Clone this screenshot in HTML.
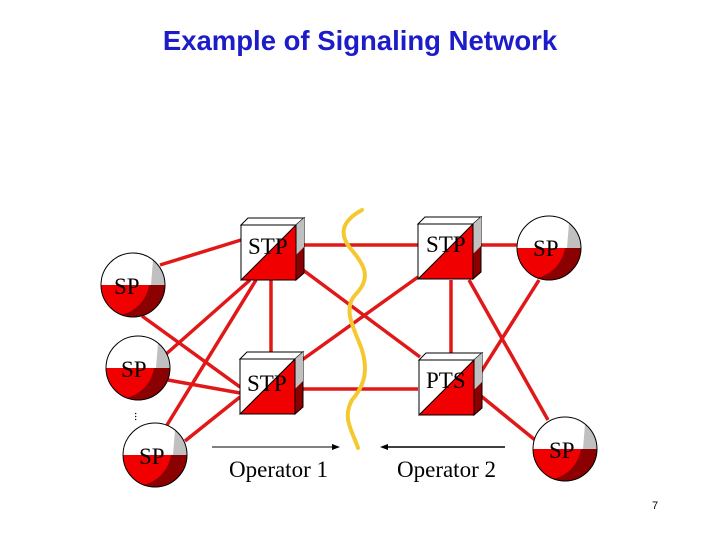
<!DOCTYPE html>
<html><head><style>
body{margin:0;background:#fff;width:720px;height:540px;overflow:hidden}
</style></head><body>
<svg width="720" height="540" xmlns="http://www.w3.org/2000/svg">
<defs>
<g id="box">
<polygon points="0,0 55,0 63,-7 7,-7" fill="#fff" stroke="#000" stroke-width="1"/>
<polygon points="55,0 63,-7 63,48 55,55" fill="#8b0000" stroke="#000" stroke-width="1"/>
<polygon points="55,0 63,-7 63,22 55,30" fill="#c0c0c0"/>
<rect x="0" y="0" width="55" height="55" fill="#fff" stroke="#000" stroke-width="1"/>
<polygon points="55,0 55,55 0,55" fill="#f00000" stroke="#000" stroke-width="1"/>
</g>
<g id="sp">
<circle r="32" fill="#fff"/>
<path d="M-32,0 A32,32 0 0 0 32,0 Z" fill="#f00000"/>
<path d="M32,0 A32,32 0 0 1 -12,30 A36,36 0 0 0 16,0 Z" fill="#8b0000"/>
<path d="M20,-25 A32,32 0 0 1 32,0 L18,0 Z" fill="#c0c0c0"/>
<circle r="32" fill="none" stroke="#000" stroke-width="1"/>
</g>
</defs>
<text x="360" y="50" text-anchor="middle" font-family="Liberation Sans, sans-serif" font-weight="bold" font-size="27.5" fill="#1c1cc8">Example of Signaling Network</text>
<g stroke="#e01818" stroke-width="3.5" fill="none">
<line x1="160" y1="265" x2="241" y2="240"/>
<line x1="142" y1="316" x2="240" y2="387"/>
<line x1="165" y1="355" x2="250" y2="280"/>
<line x1="168" y1="380" x2="240" y2="393"/>
<line x1="167" y1="425" x2="256" y2="280"/>
<line x1="185" y1="441" x2="240" y2="397"/>
<line x1="271" y1="280" x2="271" y2="356"/>
<line x1="303" y1="245" x2="418" y2="245"/>
<line x1="303" y1="270" x2="420" y2="357"/>
<line x1="302" y1="360" x2="418" y2="277"/>
<line x1="303" y1="389" x2="418" y2="389"/>
<line x1="451" y1="280" x2="451" y2="355"/>
<line x1="480" y1="245" x2="517" y2="245"/>
<line x1="469" y1="280" x2="548" y2="420"/>
<line x1="481" y1="372" x2="539" y2="280"/>
<line x1="481" y1="396" x2="535" y2="440"/>
</g>
<path d="M362,210 C340,222 340,235 350,248 C365,265 372,278 355,295 C342,310 355,330 362,350 C368,370 365,385 352,400 C342,418 352,430 358,448" stroke="#f5c830" stroke-width="4" fill="none" stroke-linecap="round"/>
<use href="#box" x="241" y="225"/>
<use href="#box" x="240" y="359"/>
<use href="#box" x="418" y="224"/>
<use href="#box" x="419" y="360"/>
<use href="#sp" x="133" y="285"/>
<use href="#sp" x="138" y="368"/>
<use href="#sp" x="155" y="455"/>
<use href="#sp" x="549" y="248"/>
<use href="#sp" x="565" y="449"/>
<g font-family="Liberation Serif, serif" font-size="23" fill="#000">
<text x="248" y="254">STP</text>
<text x="247" y="391">STP</text>
<text x="426" y="252">STP</text>
<text x="426" y="388">PTS</text>
<text x="114" y="294">SP</text>
<text x="121" y="377">SP</text>
<text x="139" y="464">SP</text>
<text x="533" y="256">SP</text>
<text x="549" y="458">SP</text>
<text x="229" y="477">Operator 1</text>
<text x="397" y="477">Operator 2</text>
</g>
<text x="140" y="417" font-family="Liberation Serif, serif" font-size="12" transform="rotate(90 140 412)">...</text>
<line x1="212" y1="447" x2="336" y2="447" stroke="#000" stroke-width="1"/>
<polygon points="340,447 332,444 332,450" fill="#000"/>
<line x1="386" y1="447" x2="505" y2="447" stroke="#000" stroke-width="1.5"/>
<polygon points="380,447 388,444 388,450" fill="#000"/>
<text x="652" y="509" font-family="Liberation Sans, sans-serif" font-size="11">7</text>
</svg>
</body></html>
